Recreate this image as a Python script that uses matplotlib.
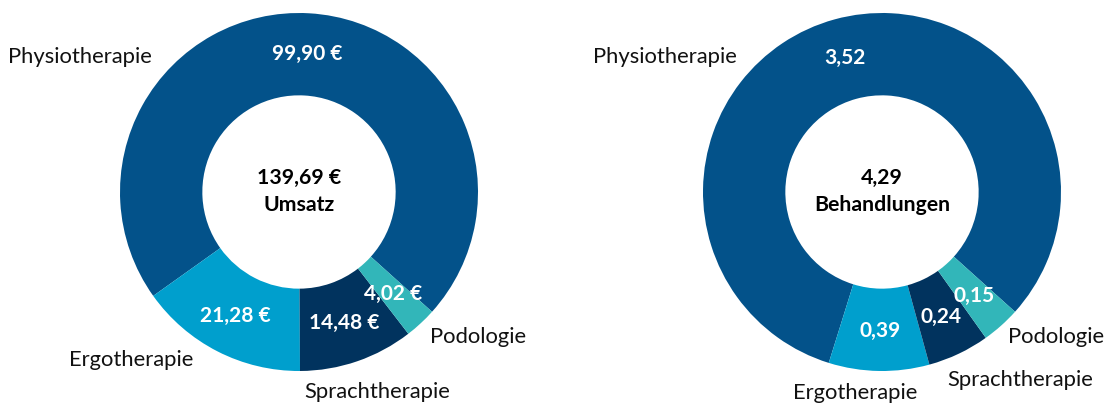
import numpy as np
import matplotlib
matplotlib.use("Agg")
import matplotlib.pyplot as plt

plt.rcParams["font.family"] = ["Lato", "DejaVu Sans"]

# ------------------------- data -------------------------
CATEGORIES = ["Physiotherapie", "Ergotherapie", "Sprachtherapie", "Podologie"]
UMSATZ = [99.90, 21.28, 14.48, 4.02]
UMSATZ_TOTAL = 139.69
BEHANDLUNGEN = [3.52, 0.39, 0.24, 0.15]
BEHANDLUNGEN_TOTAL = 4.29

COLORS = ["#03528A", "#009FCD", "#01335E", "#32B6B9"]

W, H, DPI = 1112, 405, 100
R_PX = 179          # outer radius in pixels
INNER = 0.54        # inner radius / outer radius
START = -42


def de(v, nd=2):
    return f"{v:.{nd}f}".replace(".", ",")


def donut(fig, cx, cy, values, fmt, center_lines, label_pos):
    half = 205
    ax = fig.add_axes([(cx - half) / W, 1 - (cy + half) / H, 2 * half / W, 2 * half / H])
    lim = half / R_PX
    ax.pie(values, colors=COLORS, startangle=START, counterclock=True, radius=1.0,
           wedgeprops=dict(width=1 - INNER, linewidth=0))
    ax.set_xlim(-lim, lim)
    ax.set_ylim(-lim, lim)
    ax.set_aspect("equal")
    ax.axis("off")

    # value labels at mid angle of each wedge
    total = sum(values)
    a0 = START
    r_mid = (1 + INNER) / 2 + 0.005
    for v in values:
        span = 360 * v / total
        mid = np.deg2rad(a0 + span / 2)
        ax.text(r_mid * np.cos(mid), r_mid * np.sin(mid), fmt(v), color="white",
                fontsize=15, fontweight="bold", ha="center", va="center")
        a0 += span

    ax.text(0, 0.08, center_lines[0], fontsize=15.3, fontweight="bold", ha="center", va="center")
    ax.text(0, -0.07, center_lines[1], fontsize=15.3, fontweight="bold", ha="center", va="center")

    for name, (x, y, ha) in zip(CATEGORIES, label_pos):
        ax.text(x, y, name, fontsize=15.8, ha=ha, va="center", color="#111111")
    return ax


fig = plt.figure(figsize=(W / DPI, H / DPI), dpi=DPI)

donut(fig, 299, 192, UMSATZ, lambda v: de(v) + " €",
      [de(UMSATZ_TOTAL) + " €", "Umsatz"],
      [(-0.82, 0.754, "right"), (-0.592, -0.939, "right"),
       (0.436, -1.117, "center"), (0.732, -0.81, "left")])

donut(fig, 882, 192, BEHANDLUNGEN, lambda v: de(v),
      [de(BEHANDLUNGEN_TOTAL), "Behandlungen"],
      [(-0.81, 0.754, "right"), (-0.151, -1.123, "center"),
       (0.363, -1.05, "left"), (0.704, -0.81, "left")])

fig.savefig("out.png", dpi=DPI)
